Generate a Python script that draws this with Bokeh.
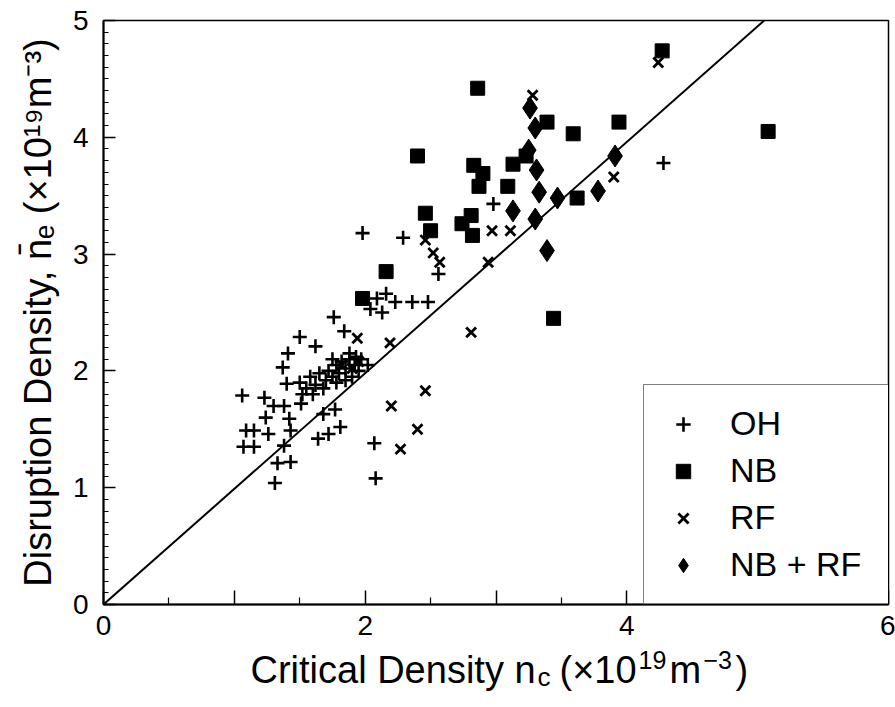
from bokeh.plotting import figure
from bokeh.layouts import column
from bokeh.models import Range1d, FixedTicker, Legend, LegendItem, Label
from bokeh.embed import file_html
from bokeh.resources import INLINE

# ---- data ----
oh_x = [1.50, 1.62, 1.41, 1.37, 1.40, 1.06, 1.23, 1.30, 1.38, 1.24, 1.42, 1.09, 1.15, 1.26, 1.43,
        1.07, 1.15, 1.38, 1.64, 1.72, 1.81, 1.77, 1.68, 1.33, 1.43, 1.31, 1.51, 2.07, 2.08, 1.84,
        1.98, 2.29, 2.09, 2.16, 2.23, 2.36, 2.48, 2.04, 2.13, 1.76, 2.56, 2.98, 4.28,
        1.50, 1.55, 1.58, 1.62, 1.65, 1.60, 1.70, 1.72, 1.75, 1.78, 1.80, 1.82, 1.85, 1.88,
        1.90, 1.92, 1.95, 1.97, 1.85, 1.78, 1.68, 1.88, 1.93, 1.75, 1.52, 2.02]
oh_y = [2.29, 2.21, 2.15, 2.03, 1.89, 1.79, 1.77, 1.70, 1.70, 1.60, 1.59, 1.49, 1.49, 1.46, 1.49,
        1.35, 1.35, 1.36, 1.42, 1.46, 1.52, 1.67, 1.63, 1.21, 1.22, 1.04, 1.72, 1.38, 1.08, 2.34,
        3.18, 3.14, 2.62, 2.66, 2.59, 2.59, 2.59, 2.53, 2.50, 2.46, 2.83, 3.43, 3.78,
        1.90, 1.85, 1.95, 1.88, 1.98, 1.80, 1.92, 2.00, 1.95, 2.05, 1.98, 2.08, 2.02, 2.10,
        1.95, 2.05, 2.00, 2.10, 1.92, 1.90, 1.85, 2.15, 2.12, 2.10, 1.80, 2.05]

nb_x = [2.86, 2.40, 4.27, 5.08, 3.39, 3.59, 3.94, 3.23, 2.83, 2.90, 2.87, 3.13, 3.09,
        2.46, 2.50, 2.74, 2.81, 2.82, 3.62, 3.44, 2.16, 1.98]
nb_y = [4.42, 3.84, 4.74, 4.05, 4.13, 4.03, 4.13, 3.84, 3.76, 3.69, 3.58, 3.77, 3.58,
        3.35, 3.20, 3.26, 3.33, 3.16, 3.48, 2.45, 2.85, 2.62]

rf_x = [4.24, 3.28, 3.90, 2.97, 3.11, 2.94, 2.46, 2.52, 2.57, 1.94, 2.19, 2.81,
        2.46, 2.20, 2.40, 2.27, 1.82, 1.90, 1.95]
rf_y = [4.64, 4.36, 3.66, 3.20, 3.20, 2.93, 3.12, 3.01, 2.93, 2.28, 2.24, 2.33,
        1.83, 1.70, 1.50, 1.33, 2.05, 2.02, 2.08]

nbrf_x = [3.26, 3.30, 3.25, 3.31, 3.33, 3.47, 3.78, 3.13, 3.30, 3.39, 3.91]
nbrf_y = [4.25, 4.08, 3.89, 3.72, 3.53, 3.48, 3.54, 3.37, 3.30, 3.03, 3.84]

fit_x = [0.0, 5.05]
fit_y = [0.0, 5.0]

x_ticks = [0, 1, 2, 3, 4, 5, 6]
x_tick_labels = {0: "0", 1: "", 2: "2", 3: "", 4: "4", 5: "", 6: "6"}
y_ticks = [0, 1, 2, 3, 4, 5]

FONT = "Liberation Sans"

p = figure(width=895, height=647, output_backend="svg", toolbar_location=None,
           x_range=Range1d(0, 6), y_range=Range1d(0, 5),
           min_border_left=103, min_border_right=7, min_border_top=20, min_border_bottom=43)
p.background_fill_color = "white"
p.border_fill_color = "white"
p.grid.visible = False
p.outline_line_color = "black"
p.outline_line_width = 1.5

# axes
xa = p.xaxis[0]
xa.ticker = FixedTicker(ticks=x_ticks, minor_ticks=[t + 0.5 for t in x_ticks[:-1]])
xa.major_label_overrides = x_tick_labels
ya = p.yaxis[0]
ya.ticker = FixedTicker(ticks=y_ticks, minor_ticks=[i / 10 for i in range(0, 51)])
for ax in (xa, ya):
    ax.axis_line_color = "black"
    ax.axis_line_width = 2
    ax.major_tick_in = 14
    ax.major_tick_out = 0
    ax.minor_tick_in = 7
    ax.minor_tick_out = 0
    ax.major_tick_line_width = 1.5
    ax.minor_tick_line_width = 1.2
    ax.major_tick_line_color = "black"
    ax.minor_tick_line_color = "black"
    ax.major_label_text_font = FONT
    ax.major_label_text_font_size = "28px"
    ax.major_label_text_color = "black"
ya.minor_tick_in = 5
ya.major_tick_in = 12
xa.major_label_standoff = 11
ya.major_label_standoff = 15
ya.axis_label = "Disruption Density, n\u0304\u2091 (\u00d710\u00b9\u2079m\u207b\u00b3)"
ya.axis_label_text_font = FONT
ya.axis_label_text_font_size = "38px"
ya.axis_label_text_font_style = "normal"
ya.axis_label_text_color = "black"
ya.axis_label_standoff = 11

# fit line y = x
p.line(fit_x, fit_y, line_color="black", line_width=2)

r_oh = p.scatter(oh_x, oh_y, marker="cross", size=14, line_color="black", line_width=2.6)
r_nb = p.scatter(nb_x, nb_y, marker="square", size=14, fill_color="black", line_color="black")
r_rf = p.scatter(rf_x, rf_y, marker="x", size=14, line_color="black", line_width=2.8)
r_nbrf = p.scatter(nbrf_x, nbrf_y, marker="diamond", size=22, fill_color="black", line_color="black")

legend = Legend(items=[LegendItem(label="OH", renderers=[r_oh]),
                       LegendItem(label="NB", renderers=[r_nb]),
                       LegendItem(label="RF", renderers=[r_rf]),
                       LegendItem(label="NB + RF", renderers=[r_nbrf])],
                location=(540, 0), margin=0, padding=19, spacing=8,
                glyph_width=40, glyph_height=36, label_height=36, label_width=140,
                label_standoff=27,
                label_text_font=FONT, label_text_font_size="34px", label_text_color="black",
                border_line_color="black", border_line_width=1.5,
                background_fill_color="white", background_fill_alpha=1.0)
p.add_layout(legend)

# strip below the plot carrying the x-axis title (with subscript / superscripts)
p2 = figure(width=895, height=60, output_backend="svg", toolbar_location=None,
            x_range=Range1d(0, 1), y_range=Range1d(0, 1),
            x_axis_location=None, y_axis_location=None, min_border=0)
p2.outline_line_color = None
p2.background_fill_color = "white"
p2.border_fill_color = "white"
p2.grid.visible = False


def piece(text, x, y, size):
    p2.add_layout(Label(x=x, y=y, x_units="screen", y_units="screen", text=text,
                        text_font=FONT, text_font_size=size, text_color="black",
                        text_baseline="alphabetic", text_align="left"))


base = 38
piece("Critical Density n", 147, base, "38px")
piece("c", 434, base - 7, "26px")
piece("(\u00d710", 456, base, "38px")
piece("19", 535, base + 10, "25px")
piece("m", 566, base, "38px")
piece("\u22123", 600, base + 10, "25px")
piece(")", 632, base, "38px")

layout = column(p, p2, spacing=0)
open("out.html", "w").write(file_html(layout, INLINE))
